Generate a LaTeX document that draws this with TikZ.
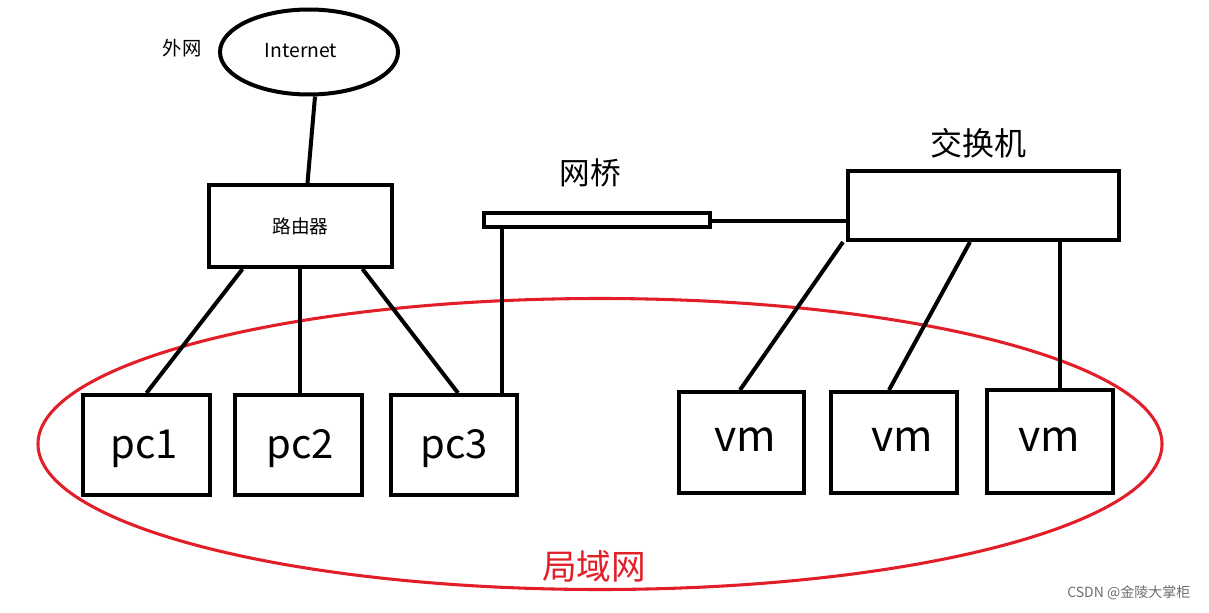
\documentclass[tikz,border=0pt]{standalone}
\usepackage{fontspec}
\setmainfont{Noto Sans CJK SC}
\usetikzlibrary{shapes.geometric,calc}
\definecolor{lanred}{RGB}{226,30,40}
\definecolor{wmgray}{RGB}{110,110,110}
\begin{document}
\begin{tikzpicture}[x=0.75pt,y=-0.75pt,
  box/.style={draw,line width=3pt,rectangle,inner sep=0pt},
  link/.style={line width=3pt},
  big/.style={font=\fontsize{30}{32}\selectfont}]
\useasboundingbox (0,0) rectangle (1209,613);
% Internet
\node[draw,line width=3pt,ellipse,minimum width=178*0.75pt,minimum height=85*0.75pt,inner sep=0pt] (inet) at (309,52) {};
\node[font=\fontsize{14.5}{16}\selectfont] (inettxt) at (301,51) {Internet};
\node[font=\fontsize{14.5}{16}\selectfont] (wai) at (182,48) {外网};
% router
\node[box,minimum width=183*0.75pt,minimum height=82*0.75pt,font=\fontsize{14}{16}\selectfont] (r) at (300.5,226) {路由器};
% pcs
\node[box,big,minimum width=127*0.75pt,minimum height=100*0.75pt] (pc1) at (146.5,445) {};
\node[big] (pc1t) at (144,449) {pc1};
\node[box,big,minimum width=127*0.75pt,minimum height=100*0.75pt] (pc2) at (298.5,445) {};
\node[big] (pc2t) at (300,449) {pc2};
\node[box,big,minimum width=126*0.75pt,minimum height=100*0.75pt] (pc3) at (454,445) {};
\node[big] (pc3t) at (454,449) {pc3};
% vms
\node[box,big,minimum width=125*0.75pt,minimum height=101*0.75pt] (vm1) at (741.5,442.5) {};
\node[font=\fontsize{32}{34}\selectfont] (vm1t) at (745,440) {vm};
\node[box,big,minimum width=126*0.75pt,minimum height=101*0.75pt] (vm2) at (894,442.5) {};
\node[font=\fontsize{32}{34}\selectfont] (vm2t) at (902,440) {vm};
\node[box,big,minimum width=126*0.75pt,minimum height=103*0.75pt] (vm3) at (1050,441.5) {};
\node[font=\fontsize{32}{34}\selectfont] (vm3t) at (1049,440) {vm};
% bridge
\node[box,minimum width=226*0.75pt,minimum height=14*0.75pt] (br) at (597,220) {};
\node[font=\fontsize{23}{26}\selectfont] (brl) at (590,173) {网桥};
% switch
\node[box,minimum width=271*0.75pt,minimum height=69*0.75pt] (sw) at (983.5,205.5) {};
\node[font=\fontsize{24}{27}\selectfont] (swl) at (978,143) {交换机};
% LAN ellipse
\node[draw=lanred,line width=2.3pt,ellipse,minimum width=1124*0.75pt,minimum height=291*0.75pt,inner sep=0pt] (lan) at (600,444) {};
\node[text=lanred,font=\fontsize{26}{29}\selectfont] (lanl) at (594,566) {局域网};
% connectors
\draw[link] ($(inet.south)+(6,0)$) -- ($(r.north)+(7,0)$);
\draw[link] ($(r.south)+(-58,0)$) -- (pc1.north);
\draw[link] ($(r.south)+(-1,0)$) -- ($(pc2.north)+(1,0)$);
\draw[link] ($(r.south)+(62,0)$) -- ($(pc3.north)+(4,0)$);
\draw[link] ($(br.south west)+(20,0)$) -- ($(pc3.north east)+(-17,0)$);
\draw[link] ($(br.east)+(0,1)$) -- ($(br.east -| sw.west)+(0,1)$);
\draw[link] ($(sw.south west)+(-3,0)$) -- ($(vm1.north)+(-1.5,0)$);
\draw[link] ($(sw.south)+(-13.5,0)$) -- ($(vm2.north)+(-5,0)$);
\draw[link] ($(sw.south)+(76.5,0)$) -- ($(vm3.north)+(10,0)$);
% watermark
\node[anchor=east,text=wmgray,font=\fontsize{10.5}{12}\selectfont] (wm) at (1195,593) {CSDN @金陵大掌柜};
\end{tikzpicture}
\end{document}
